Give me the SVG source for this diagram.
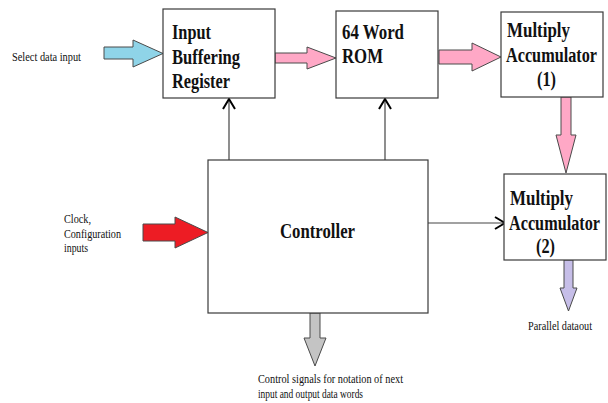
<svg xmlns="http://www.w3.org/2000/svg" width="608" height="403" viewBox="0 0 608 403">
<style>
.box{fill:#fff;stroke:#3a3a3a;stroke-width:1.2}
.t{font-family:"Liberation Serif","DejaVu Serif","Times New Roman",serif;font-weight:bold;font-size:20px;fill:#111}
.s{font-family:"Liberation Serif","DejaVu Serif","Times New Roman",serif;font-size:12px;fill:#111}
.fat{stroke:#4a4a4a;stroke-width:1}
.ln{stroke:#444;stroke-width:1.2;fill:none}
</style>
<defs>
<marker id="chev" viewBox="0 0 12 14" refX="11" refY="7" markerWidth="12" markerHeight="14" markerUnits="userSpaceOnUse" orient="auto">
<path d="M1,1 L11,7 L1,13" fill="none" stroke="#000" stroke-width="2"/>
</marker>
</defs>
<rect width="608" height="403" fill="#fff"/>
<g id="connectors">
<polygon class="fat" fill="#8fd4e8" points="104,47 133,47 133,40 163,53.5 133,67 133,59 104,59"/>
<polygon class="fat" fill="#ffa8c6" points="275,53 307,53 307,47 336,58 307,69 307,63 275,63"/>
<polygon class="fat" fill="#ffa8c6" points="439,50 472,50 472,43 501,57 472,71 472,64 439,64"/>
<polygon class="fat" fill="#ffa8c6" points="561,97 571,97 571,135 576,135 566,173 556,135 561,135"/>
<polygon class="fat" fill="#ed1c24" points="143,224 175,224 175,217 208,232.5 175,248 175,241 143,241"/>
<polygon class="fat" fill="#c4c4c4" points="310,313 320,313 320,338 326,338 315,366 304,338 310,338"/>
<polygon class="fat" fill="#c6bee8" points="564,260 573,260 573,288 577,288 568.5,311 560,288 564,288"/>
<line class="ln" x1="229" y1="160" x2="229" y2="99" marker-end="url(#chev)"/>
<line class="ln" x1="385" y1="160" x2="385" y2="99" marker-end="url(#chev)"/>
<line class="ln" x1="428" y1="223" x2="505" y2="223" marker-end="url(#chev)"/>
</g>
<g id="ibr">
<rect class="box" x="163" y="9" width="112" height="89"/>
<text class="t" x="172" y="39" textLength="39" lengthAdjust="spacingAndGlyphs">Input</text>
<text class="t" x="172" y="64" textLength="68" lengthAdjust="spacingAndGlyphs">Buffering</text>
<text class="t" x="172" y="88" textLength="58" lengthAdjust="spacingAndGlyphs">Register</text>
</g>
<g id="rom">
<rect class="box" x="336" y="11" width="102" height="87"/>
<text class="t" x="342" y="39" textLength="62" lengthAdjust="spacingAndGlyphs">64 Word</text>
<text class="t" x="342" y="63" textLength="41" lengthAdjust="spacingAndGlyphs">ROM</text>
</g>
<g id="mac1">
<rect class="box" x="501" y="12" width="102" height="85"/>
<text class="t" x="507" y="37" textLength="63" lengthAdjust="spacingAndGlyphs">Multiply</text>
<text class="t" x="506" y="62" textLength="91" lengthAdjust="spacingAndGlyphs">Accumulator</text>
<text class="t" x="537" y="86" textLength="19" lengthAdjust="spacingAndGlyphs">(1)</text>
</g>
<g id="controller">
<rect class="box" x="208" y="160" width="220" height="153"/>
<text class="t" x="280" y="238" textLength="75" lengthAdjust="spacingAndGlyphs">Controller</text>
</g>
<g id="mac2">
<rect class="box" x="504" y="174" width="102" height="86"/>
<text class="t" x="510" y="205" textLength="63" lengthAdjust="spacingAndGlyphs">Multiply</text>
<text class="t" x="509" y="230" textLength="91" lengthAdjust="spacingAndGlyphs">Accumulator</text>
<text class="t" x="536" y="253" textLength="19" lengthAdjust="spacingAndGlyphs">(2)</text>
</g>
<g id="labels">
<text class="s" x="12" y="61" textLength="69" lengthAdjust="spacingAndGlyphs">Select data input</text>
<text class="s" x="64" y="223" textLength="27" lengthAdjust="spacingAndGlyphs">Clock,</text>
<text class="s" x="64" y="238" textLength="57" lengthAdjust="spacingAndGlyphs">Configuration</text>
<text class="s" x="64" y="252" textLength="24" lengthAdjust="spacingAndGlyphs">inputs</text>
<text class="s" x="258" y="383" textLength="145" lengthAdjust="spacingAndGlyphs">Control signals for notation of next</text>
<text class="s" x="258" y="398" textLength="105" lengthAdjust="spacingAndGlyphs">input and output data words</text>
<text class="s" x="528" y="330" textLength="64" lengthAdjust="spacingAndGlyphs">Parallel dataout</text>
</g>
</svg>
